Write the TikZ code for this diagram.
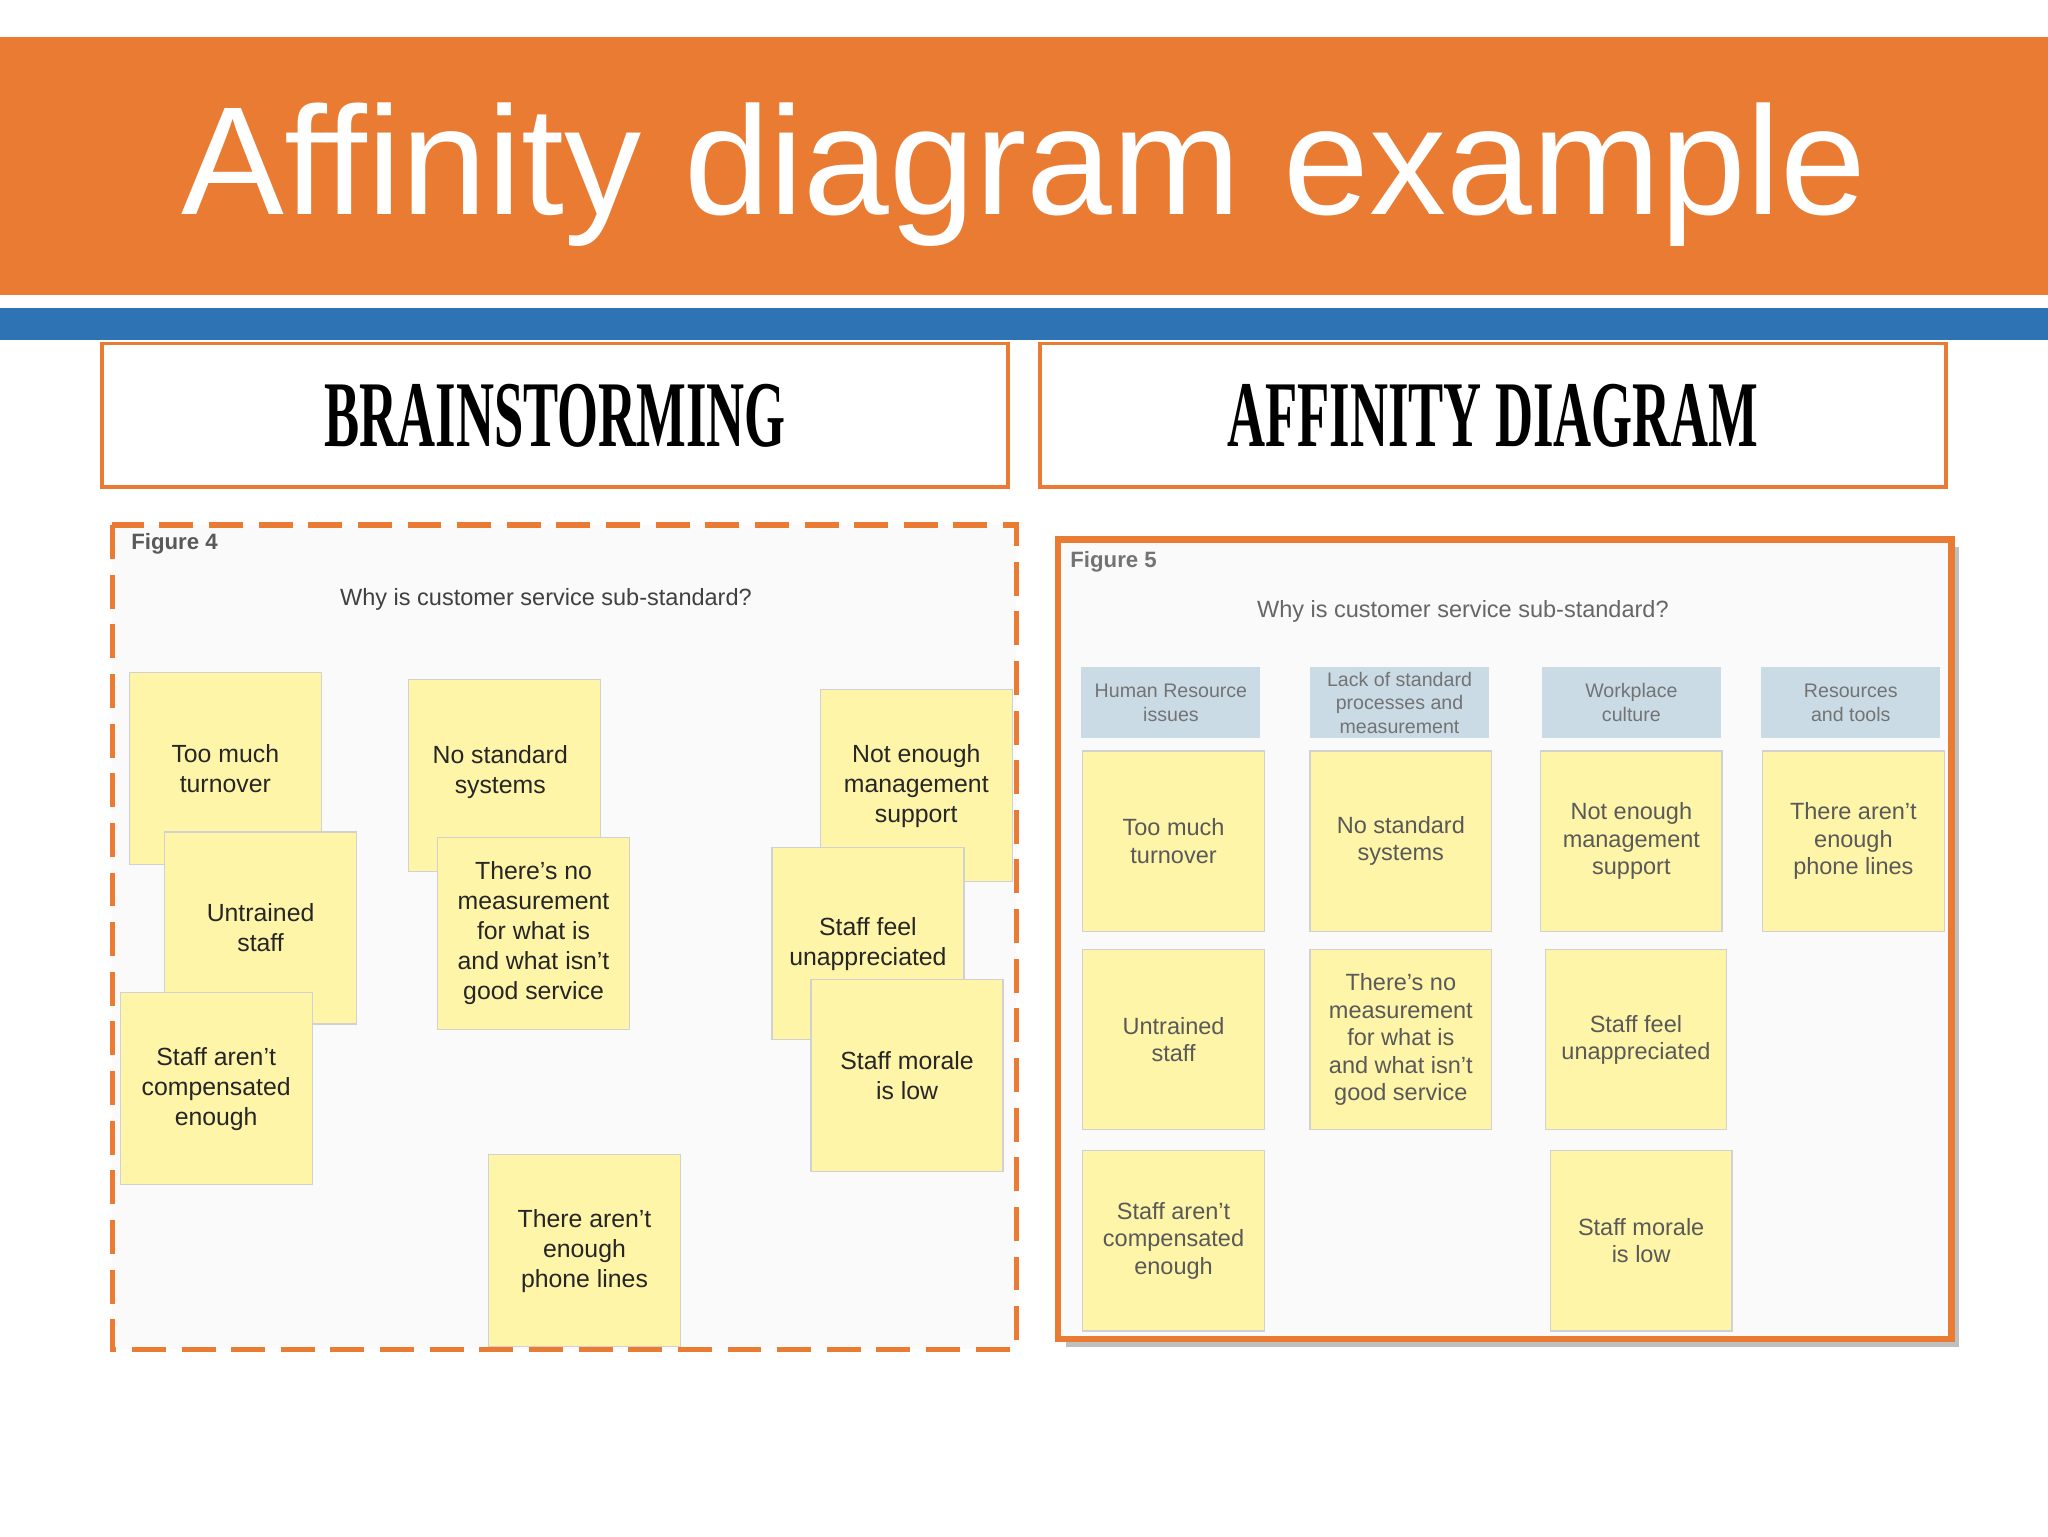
\documentclass[tikz,border=0pt]{standalone}
\usepackage{fontspec}
\setmainfont{Liberation Sans}
\newfontfamily\headfont{Liberation Serif}
\begin{document}
\begin{tikzpicture}[x=1pt,y=-1pt,
  note/.style={draw=black!18,fill=yellow!30!white!95!orange,line width=1pt,align=center,font=\fontsize{19}{23}\selectfont,text=black!85,inner sep=2pt,minimum width=147pt,minimum height=147pt},
  rnote/.style={note,font=\fontsize{18}{21}\selectfont,text=black!65,minimum width=139pt,minimum height=138pt},
  hdr/.style={fill=hdrblue,align=center,font=\fontsize{15}{18}\selectfont,text=black!55,minimum width=137pt,minimum height=54pt,inner sep=1pt},
  hbox/.style={draw=obar,line width=3pt,fill=white,minimum width=694pt,minimum height=110pt}]
\definecolor{obar}{HTML}{E97B33}
\definecolor{bbar}{HTML}{2E74B5}
\definecolor{hdrblue}{HTML}{CADBE5}
\useasboundingbox (0,0) rectangle (1568,1176);
\fill[white] (0,0) rectangle (1568,1176);
\fill[obar] (0,28) rectangle (1568,226);
\fill[bbar] (0,236) rectangle (1568,260);
\node[text=white,font=\fontsize{118}{120}\selectfont] (title) at (784,134) {Affinity diagram example};
\node[hbox] (hl) at (425,318) {};
\node[hbox] (hr) at (1143,318) {};
\node[font=\headfont\bfseries\fontsize{72}{74}\selectfont] at (hl) {\scalebox{0.56}[1]{BRAINSTORMING}};
\node[font=\headfont\bfseries\fontsize{72}{74}\selectfont] at (hr) {\scalebox{0.56}[1]{AFFINITY DIAGRAM}};
% left panel
\fill[black!2] (86,402) rectangle (778,1033);
\draw[obar,line width=4pt,dash pattern=on 26pt off 12pt] (86,402) rectangle (778,1033);
\node[anchor=west,font=\bfseries\fontsize{17}{20}\selectfont,text=black!65] (f4) at (97,416) {Figure 4};
\node[font=\fontsize{18}{20}\selectfont,text=black!75] (q4) at (418,459) {Why is customer service sub-standard?};
\node[note] (a1) at (172.5,588.5) {Too much\\turnover};
\node[note] (a2) at (199.5,710.5) {Untrained\\staff};
\node[note] (a3) at (165.5,833.5) {Staff aren't\\compensated\\enough};
\node[note] (a4) at (386.5,593.5) {};
\node[font=\fontsize{19}{23}\selectfont,text=black!85,align=center] (a4t) at (383,591) {No standard\\systems};
\node[note] (a5) at (408.5,714.5) {There's no\\measurement\\for what is\\and what isn't\\good service};
\node[note] (a6) at (701.5,601.5) {Not enough\\management\\support};
\node[note] (a7) at (664.5,722.5) {Staff feel\\unappreciated};
\node[note] (a8) at (694.5,823.5) {Staff morale\\is low};
\node[note] (a9) at (447.5,957.5) {There aren't\\enough\\phone lines};
% right panel
\fill[black!25] (816,419) rectangle (1500,1031);
\fill[black!2] (810,413) rectangle (1494,1025);
\node[anchor=west,font=\bfseries\fontsize{17}{20}\selectfont,text=black!55] (f5) at (816,430) {Figure 5};
\node[font=\fontsize{18}{20}\selectfont,text=black!60] (q5) at (1120,468) {Why is customer service sub-standard?};
\node[hdr] (h1) at (896.5,538) {Human Resource\\issues};
\node[hdr] (h2) at (1071.5,538) {Lack of standard\\processes and\\measurement};
\node[hdr] (h3) at (1249,538) {Workplace\\culture};
\node[hdr] (h4) at (1417,538) {Resources\\and tools};
\node[rnote] (b1) at (898.5,644) {Too much\\turnover};
\node[rnote] (b2) at (898.5,796) {Untrained\\staff};
\node[rnote] (b3) at (898.5,950) {Staff aren't\\compensated\\enough};
\node[rnote] (b4) at (1072.5,644) {No standard\\systems};
\node[rnote] (b5) at (1072.5,796) {There's no\\measurement\\for what is\\and what isn't\\good service};
\node[rnote] (b6) at (1249,644) {Not enough\\management\\support};
\node[rnote] (b7) at (1252.5,796) {Staff feel\\unappreciated};
\node[rnote] (b8) at (1256.5,950) {Staff morale\\is low};
\node[rnote] (b9) at (1419,644) {There aren't\\enough\\phone lines};
\draw[obar,line width=5pt] (810,413) rectangle (1494,1025);
\end{tikzpicture}
\end{document}
